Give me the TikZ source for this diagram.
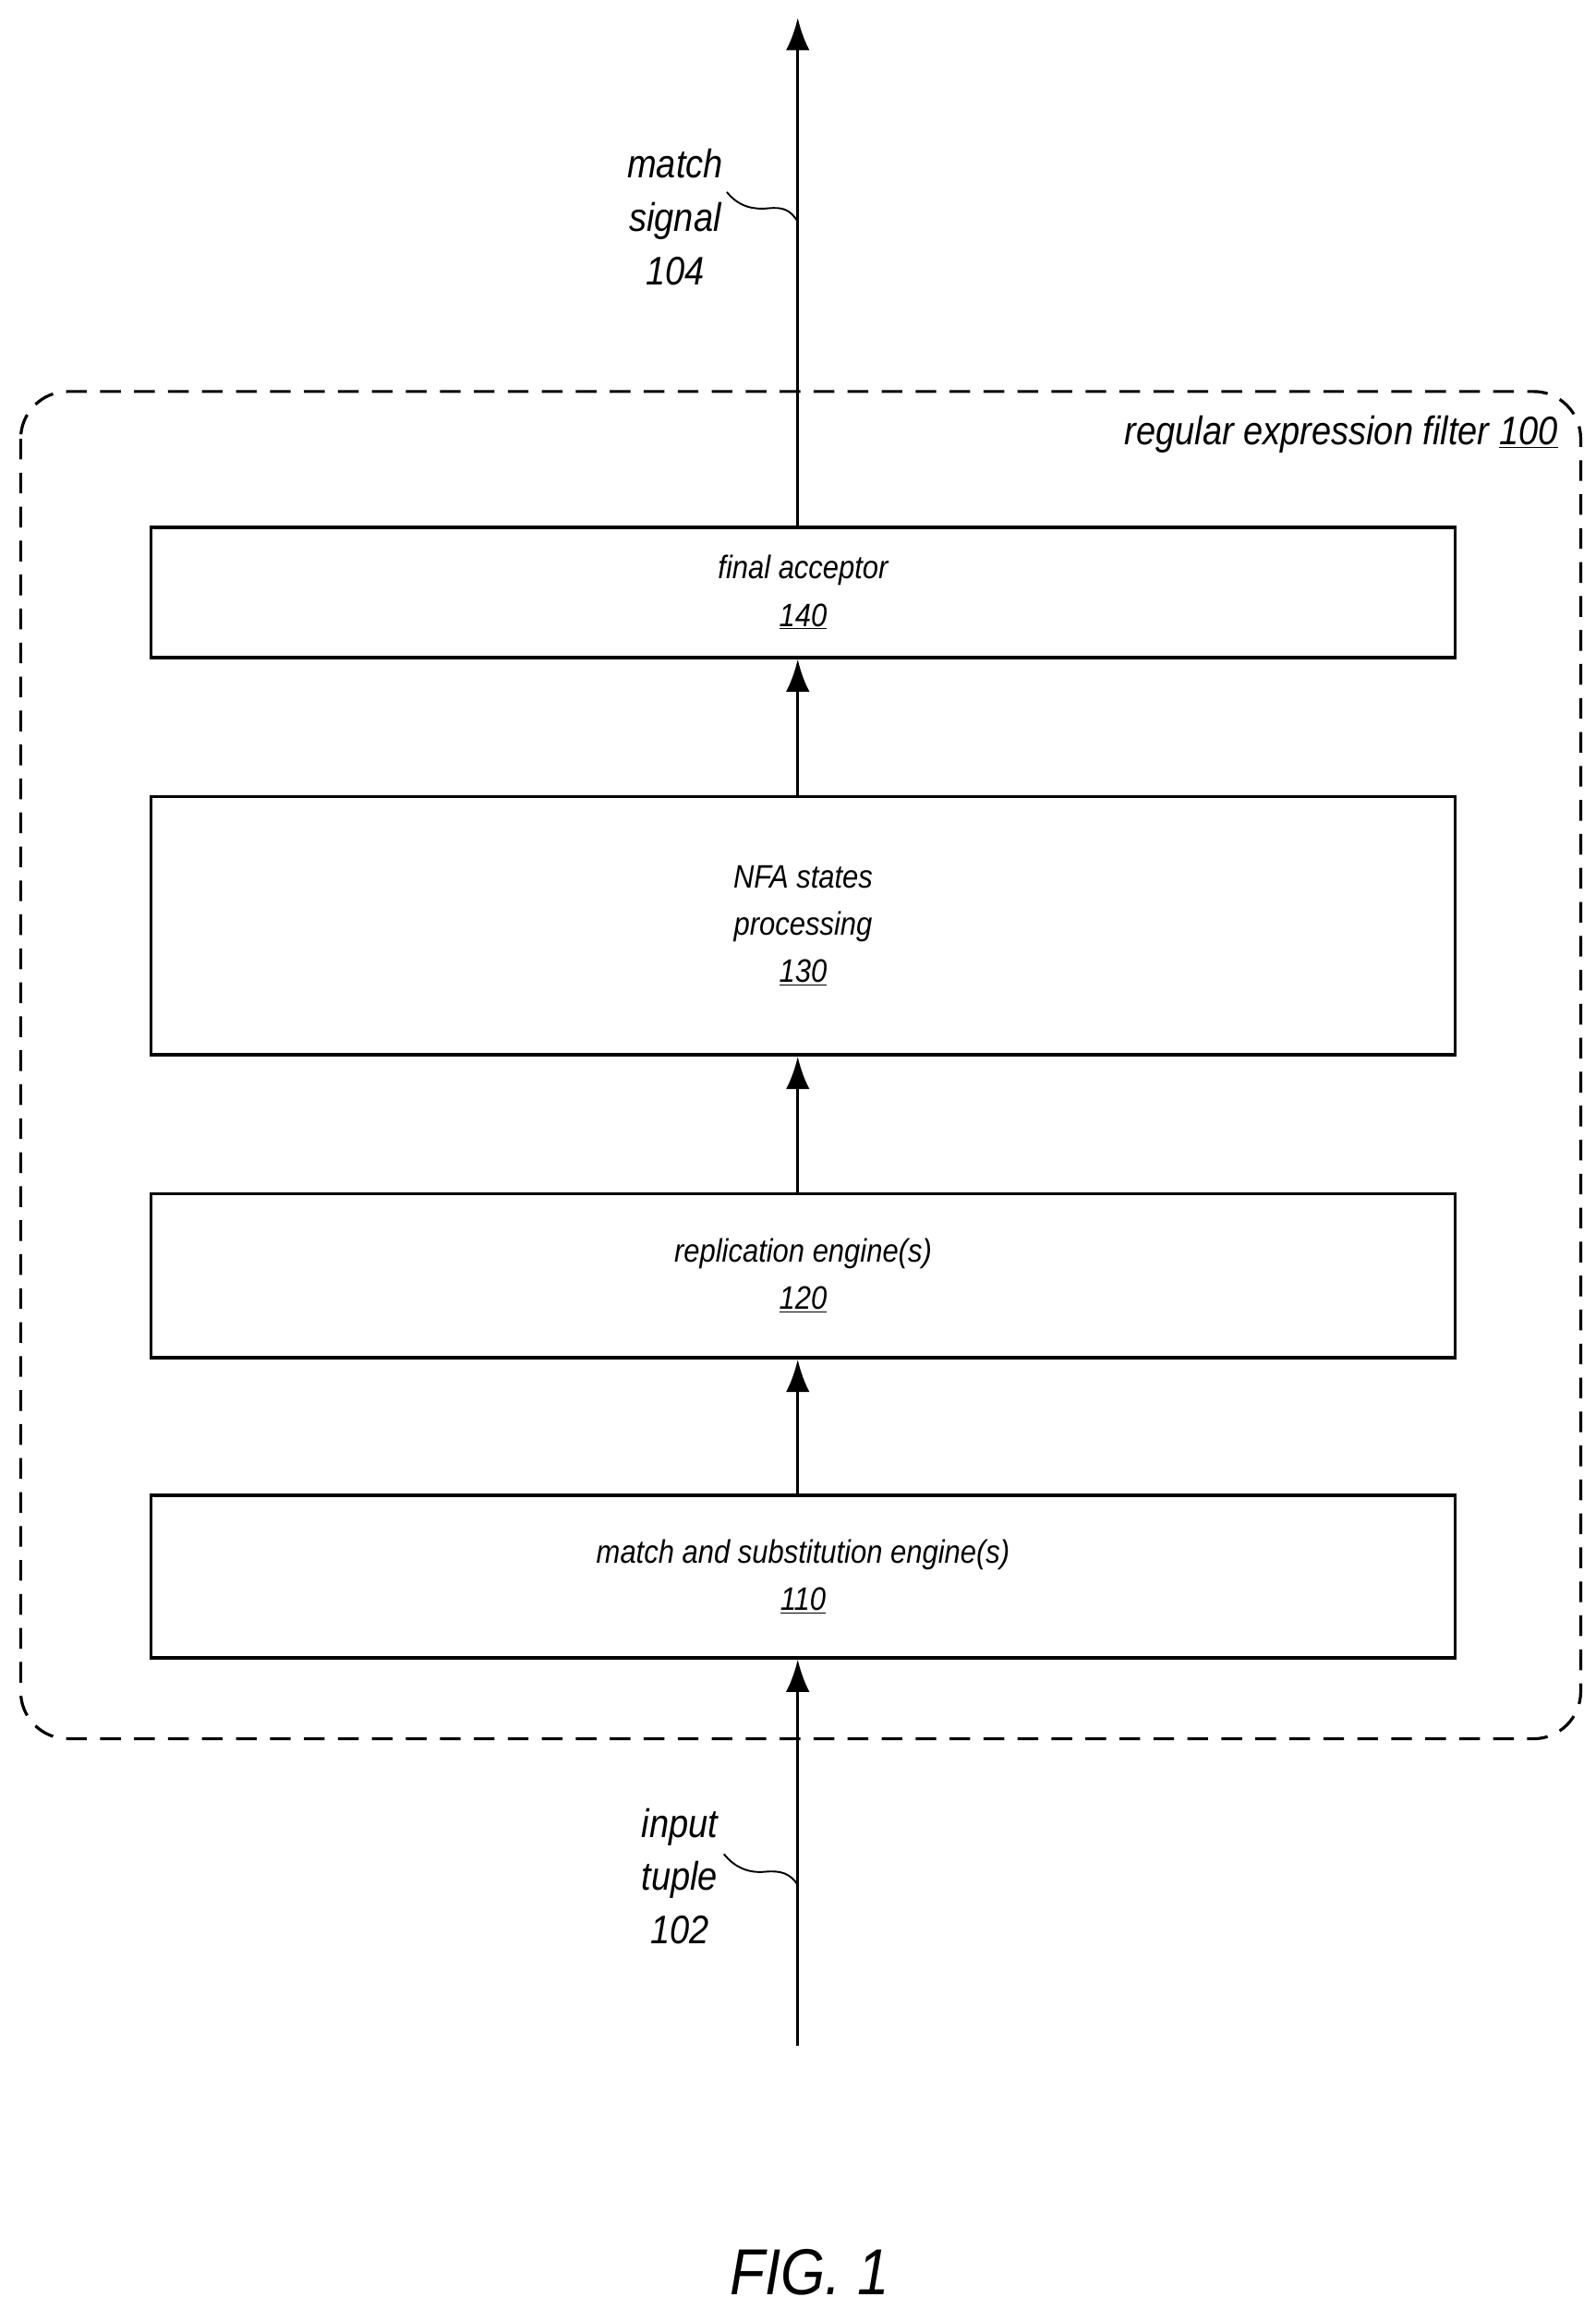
\documentclass[tikz,border=0pt]{standalone}
\usepackage{fontspec}
\setmainfont{Liberation Sans}[FakeStretch=0.88]
\usetikzlibrary{arrows.meta}
\begin{document}
\begin{tikzpicture}[x=1pt,y=-1pt,
  blk/.style={draw,line width=2.2pt,minimum width=883pt,anchor=north west,inner sep=0pt,align=center,font=\fontsize{22}{32}\selectfont\itshape},
  arr/.style={line width=2.2pt,-{Latex[length=22pt,width=16pt]}},
  lbl/.style={font=\fontsize{27}{36}\selectfont\itshape,align=center}]
\useasboundingbox (0,0) rectangle (1080,1563);
\draw[line width=2pt,dash pattern=on 14pt off 9pt,rounded corners=32pt] (14,265) rectangle (1070,1177);
\node[lbl,anchor=east,font=\fontsize{27}{30}\selectfont\itshape] (rf) at (1058,294) {regular expression filter \underline{100}};
\node[blk,minimum height=88pt] (b140) at (101,356) {final acceptor\\\underline{140}};
\node[blk,minimum height=175pt] (b130) at (101,538) {NFA states\\processing\\\underline{130}};
\node[blk,minimum height=111pt] (b120) at (101,807) {replication engine(s)\\\underline{120}};
\node[blk,minimum height=110pt] (b110) at (101,1011) {match and substitution engine(s)\\\underline{110}};
\coordinate (top) at (540,12);
\coordinate (bot) at (540,1385);
\draw[arr] (bot) -- (b110.south -| bot);
\draw[arr] (b110.north -| bot) -- (b120.south -| bot);
\draw[arr] (b120.north -| bot) -- (b130.south -| bot);
\draw[arr] (b130.north -| bot) -- (b140.south -| bot);
\draw[arr] (b140.north -| bot) -- (top);
\node[lbl] (ms) at (457,147) {match\\signal\\104};
\node[lbl] (it) at (460,1270) {input\\tuple\\102};
\draw[line width=1.2pt] (492,130) .. controls (500,140) and (510,142) .. (520,141) .. controls (530,140) and (535,142) .. (540,150);
\draw[line width=1.2pt] (490,1255) .. controls (498,1265) and (508,1268) .. (518,1267) .. controls (528,1266) and (535,1268) .. (540,1276);
\node[font=\fontsize{44}{50}\selectfont\itshape] (fig) at (548,1538) {FIG. 1};
\end{tikzpicture}
\end{document}
